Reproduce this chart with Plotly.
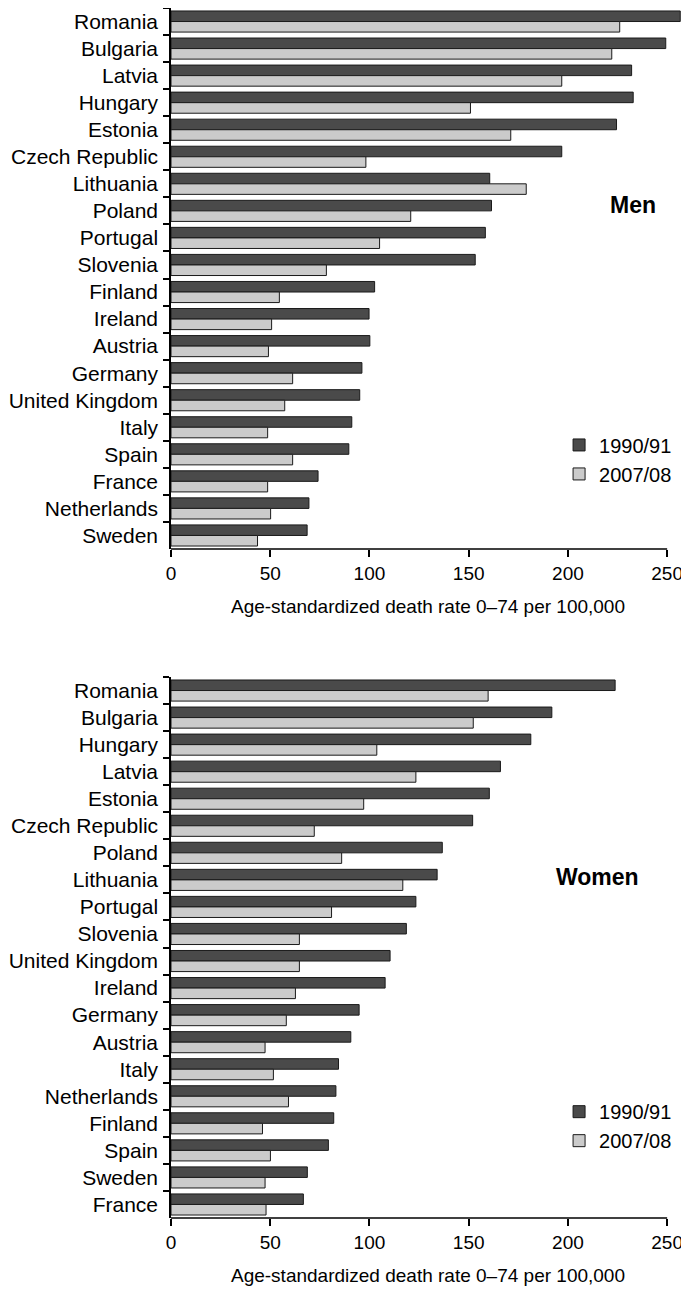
import plotly.graph_objects as go

# --- data (age-standardized death rate 0-74 per 100,000) ---
men_countries = ["Romania", "Bulgaria", "Latvia", "Hungary", "Estonia", "Czech Republic",
                 "Lithuania", "Poland", "Portugal", "Slovenia", "Finland", "Ireland",
                 "Austria", "Germany", "United Kingdom", "Italy", "Spain", "France",
                 "Netherlands", "Sweden"]
men_1990 = [256.6, 249.3, 232.1, 232.9, 224.5, 196.9, 160.6, 161.5, 158.4, 153.3,
            102.6, 99.8, 100.2, 96.2, 95.1, 91.1, 89.6, 74.1, 69.5, 68.6]
men_2007 = [226.1, 222.1, 196.9, 150.9, 171.2, 98.2, 179.0, 120.8, 105.1, 78.3,
            54.6, 50.7, 49.1, 61.3, 57.3, 48.7, 61.3, 48.7, 50.2, 43.6]

women_countries = ["Romania", "Bulgaria", "Hungary", "Latvia", "Estonia", "Czech Republic",
                   "Poland", "Lithuania", "Portugal", "Slovenia", "United Kingdom", "Ireland",
                   "Germany", "Austria", "Italy", "Netherlands", "Finland", "Spain",
                   "Sweden", "France"]
women_1990 = [223.8, 191.9, 181.3, 166.0, 160.4, 152.0, 136.7, 134.1, 123.4, 118.6,
              110.4, 107.9, 94.8, 90.6, 84.4, 83.1, 82.0, 79.3, 68.7, 66.7]
women_2007 = [159.8, 152.3, 103.7, 123.4, 97.1, 72.2, 86.0, 116.8, 80.9, 64.7,
              64.7, 62.7, 58.1, 47.4, 51.6, 59.2, 46.1, 50.1, 47.4, 47.9]

x_ticks = [0, 50, 100, 150, 200, 250]
series_names = ["1990/91", "2007/08"]
dark = "#4a4a4a"
light = "#cbcbcb"
edge = "#1a1a1a"
font = "Liberation Sans, Arial, sans-serif"
x_title = "Age-standardized death rate 0\u201374 per 100,000"

fig = go.Figure()

panels = [
    (men_countries, men_1990, men_2007, "x", "y", "legend"),
    (women_countries, women_1990, women_2007, "x2", "y2", "legend2"),
]
for countries, v1990, v2007, xa, ya, lg in panels:
    for name, vals, col in [(series_names[0], v1990, dark), (series_names[1], v2007, light)]:
        fig.add_trace(go.Bar(
            y=countries, x=vals, name=name, orientation="h",
            xaxis=xa, yaxis=ya, legend=lg,
            marker=dict(color=col, line=dict(color=edge, width=1)),
        ))

xcommon = dict(range=[0, 259], tickvals=x_ticks, ticks="outside", ticklen=7,
               tickcolor="black", tickwidth=1.5, showgrid=False, zeroline=False,
               showline=False, automargin=False,
               tickfont=dict(size=19, color="black"),
               title=dict(text=x_title, font=dict(size=19, color="black"), standoff=16))
ycommon = dict(autorange="reversed", type="category", tickson="boundaries",
               ticks="outside", ticklen=6, tickcolor="black", tickwidth=1.5,
               showline=True, linecolor="black", linewidth=1.5, showgrid=False,
               automargin=False, ticklabelstandoff=7,
               tickfont=dict(size=21, color="black"))

# page body adds an 8px offset, so the figure is 8px smaller than the window
fig.update_layout(
    width=681, height=1283,
    margin=dict(l=163, r=4, t=0, b=73),
    paper_bgcolor="white", plot_bgcolor="white",
    font=dict(family=font, color="black"),
    barmode="group", bargap=0.22, bargroupgap=0.0,
    xaxis=dict(domain=[0, 1], anchor="y", **xcommon),
    yaxis=dict(domain=[0.5529, 1], anchor="x", **ycommon),
    xaxis2=dict(domain=[0, 1], anchor="y2", **xcommon),
    yaxis2=dict(domain=[0, 0.4471], anchor="x2", **ycommon),
    legend=dict(x=0.755, y=0.655, xanchor="left", yanchor="top",
                font=dict(size=20), bgcolor="rgba(0,0,0,0)", itemwidth=30),
    legend2=dict(x=0.755, y=0.104, xanchor="left", yanchor="top",
                 font=dict(size=20), bgcolor="rgba(0,0,0,0)", itemwidth=30),
    showlegend=True,
)

# x axis lines stop at the last tick (250)
for xr, yr in [("x", "y domain"), ("x2", "y2 domain")]:
    fig.add_shape(type="line", xref=xr, yref=yr, x0=0, x1=250, y0=0, y1=0,
                  line=dict(color="black", width=1.5))

fig.add_annotation(text="<b>Men</b>", xref="x", yref="y domain", x=233, y=0.636,
                   showarrow=False, font=dict(size=23, color="black"))
fig.add_annotation(text="<b>Women</b>", xref="x2", yref="y2 domain", x=215, y=0.63,
                   showarrow=False, font=dict(size=23, color="black"))

fig.write_html("out.html")
